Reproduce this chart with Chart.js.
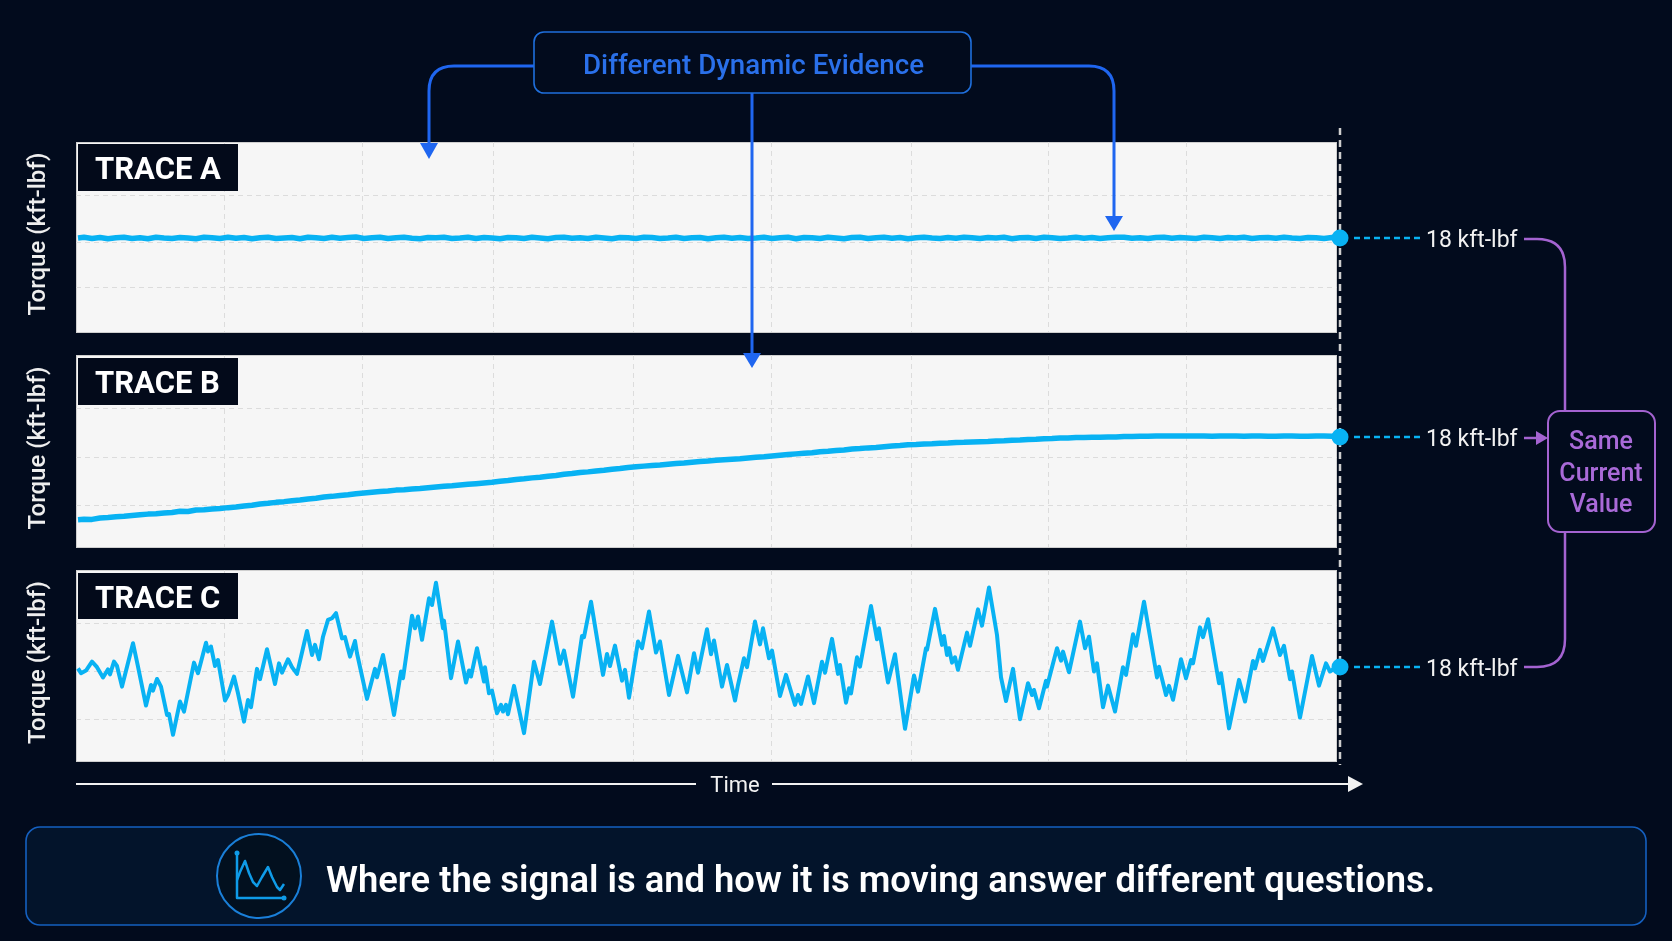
<!DOCTYPE html>
<html>
<head>
<meta charset="utf-8">
<title>Different Dynamic Evidence</title>
<script src="https://cdn.jsdelivr.net/npm/chart.js@4"></script>
<style>
  html, body { margin: 0; padding: 0; background: #020b1d; overflow: hidden; }
  #stage { position: relative; width: 1672px; height: 941px; background: #020b1d; font-family: Roboto, sans-serif; }
  canvas { position: absolute; left: 0; z-index: 2; }
  svg { position: absolute; left: 0; top: 0; }
  #back { z-index: 1; }
  #front { z-index: 3; }
  text { font-family: Roboto, sans-serif; dominant-baseline: central; }
</style>
</head>
<body>
<div id="stage">
  <svg id="back" width="1672" height="941">
    <line x1="1340" y1="128" x2="1340" y2="765" stroke="#cfcfcf" stroke-width="2.5" stroke-dasharray="7 5"/>
  </svg>
  <canvas id="chart-a" width="1360" height="214" style="top:130px"></canvas>
  <canvas id="chart-b" width="1360" height="216" style="top:343px"></canvas>
  <canvas id="chart-c" width="1360" height="215" style="top:558px"></canvas>
  <svg id="front" width="1672" height="941">
    <!-- trace tags -->
    <g fill="#030a1a">
      <rect x="78" y="144" width="160" height="47"/>
      <rect x="78" y="358" width="160" height="47"/>
      <rect x="78" y="573" width="160" height="46"/>
    </g>
    <g fill="#ffffff" font-size="31" font-weight="700">
      <text x="95" y="168">TRACE A</text>
      <text x="95" y="382">TRACE B</text>
      <text x="95" y="597">TRACE C</text>
    </g>

    <!-- top callout -->
    <g fill="none" stroke="#1f66f0" stroke-width="3">
      <path d="M534 66 H454 Q429 66 429 91 V145"/>
      <path d="M971 66 H1089 Q1114 66 1114 91 V218"/>
      <path d="M752 93 V355"/>
    </g>
    <g fill="#1f66f0">
      <path d="M420 143 H438 L429 159 Z"/>
      <path d="M1105 216 H1123 L1114 231 Z"/>
      <path d="M743 353 H761 L752 368 Z"/>
    </g>
    <rect x="534" y="32" width="437" height="61" rx="10" fill="#020b1d" stroke="#1f6fdc" stroke-width="1.6"/>
    <text x="583" y="64" textLength="341" lengthAdjust="spacingAndGlyphs" font-size="27.5" font-weight="500" fill="#2a70ea">Different Dynamic Evidence</text>

    <!-- current value leaders -->
    <g stroke="#08b2f3" stroke-width="2.4" stroke-dasharray="6 4">
      <line x1="1354" y1="238" x2="1420" y2="238"/>
      <line x1="1354" y1="437" x2="1420" y2="437"/>
      <line x1="1354" y1="667" x2="1420" y2="667"/>
    </g>
    <g fill="#f2f2f2" font-size="23">
      <text x="1426" y="239">18 kft-lbf</text>
      <text x="1426" y="438">18 kft-lbf</text>
      <text x="1426" y="668">18 kft-lbf</text>
    </g>

    <!-- same current value bracket -->
    <g fill="none" stroke="#a463d1" stroke-width="2.5">
      <path d="M1524 239 H1537 Q1565 239 1565 267 V411"/>
      <path d="M1565 532 V639 Q1565 667 1537 667 H1524"/>
      <path d="M1524 438 H1538"/>
    </g>
    <path d="M1536 431 L1548 438 L1536 445 Z" fill="#a463d1"/>
    <rect x="1548" y="411" width="107" height="121" rx="12" fill="#020b1d" stroke="#a463d1" stroke-width="2"/>
    <g fill="#a96ad8" font-size="25" font-weight="500" text-anchor="middle">
      <text x="1601" y="440">Same</text>
      <text x="1601" y="472">Current</text>
      <text x="1601" y="503">Value</text>
    </g>

    <!-- time axis -->
    <g stroke="#f2f2f2" stroke-width="2">
      <line x1="76" y1="784" x2="696" y2="784"/>
      <line x1="772" y1="784" x2="1350" y2="784"/>
    </g>
    <path d="M1348 776 L1363 784 L1348 792 Z" fill="#f2f2f2"/>
    <text x="735" y="784" text-anchor="middle" font-size="22" fill="#f2f2f2">Time</text>

    <!-- takeaway bar -->
    <rect x="26" y="827" width="1620" height="98" rx="14" fill="#03142b" stroke="#1560c0" stroke-width="1.6"/>
    <circle cx="259" cy="876" r="42" fill="#02101f" stroke="#1a7fd8" stroke-width="2"/>
    <g fill="none" stroke="#0f9be8" stroke-width="2.5" stroke-linejoin="round">
      <path d="M237 854 V898 H283"/>
      <path d="M237 880 L240 872 L245 861 L249 873 L253 882 L257 886 L262 877 L268 867 L272 877 L277 887 L280 890 L284 884"/>
    </g>
    <g fill="#0f9be8">
      <circle cx="237" cy="853" r="2.5"/>
      <circle cx="284" cy="898" r="2.5"/>
    </g>
    <text x="326" y="880" textLength="1109" lengthAdjust="spacingAndGlyphs" font-size="36" font-weight="600" fill="#ffffff">Where the signal is and how it is moving answer different questions.</text>
  </svg>
</div>

<script>
// Time grid shared by the three panels
const timeGrid = [148, 286, 417, 557, 695, 835, 972, 1110];

// Trace A and B sampled on the same time base
const timeAB = [
  2, 8, 16, 24, 32, 40, 48, 56, 64, 72,
  80, 88, 96, 104, 112, 120, 128, 136, 144, 152,
  160, 168, 176, 184, 192, 200, 208, 216, 224, 232,
  240, 248, 256, 264, 272, 280, 288, 296, 304, 312,
  320, 328, 336, 344, 352, 360, 368, 376, 384, 392,
  400, 408, 416, 424, 432, 440, 448, 456, 464, 472,
  480, 488, 496, 504, 512, 520, 528, 536, 544, 552,
  560, 568, 576, 584, 592, 600, 608, 616, 624, 632,
  640, 648, 656, 664, 672, 680, 688, 696, 704, 712,
  720, 728, 736, 744, 752, 760, 768, 776, 784, 792,
  800, 808, 816, 824, 832, 840, 848, 856, 864, 872,
  880, 888, 896, 904, 912, 920, 928, 936, 944, 952,
  960, 968, 976, 984, 992, 1000, 1008, 1016, 1024, 1032,
  1040, 1048, 1056, 1064, 1072, 1080, 1088, 1096, 1104, 1112,
  1120, 1128, 1136, 1144, 1152, 1160, 1168, 1176, 1184, 1192,
  1200, 1208, 1216, 1224, 1232, 1240, 1248, 1256, 1264
];

const torqueA = [
  18.00, 18.03, 17.98, 18.02, 17.97, 18.01, 18.03, 17.98, 18.01, 17.97,
  18.03, 18.00, 17.98, 18.02, 18.00, 17.97, 18.03, 18.01, 17.98, 18.03,
  17.99, 18.02, 17.97, 18.01, 18.03, 17.98, 18.00, 18.02, 17.97, 18.03,
  18.01, 17.98, 18.03, 17.99, 18.02, 18.04, 17.98, 18.01, 18.03, 17.98,
  18.01, 18.03, 17.99, 17.97, 18.02, 18.01, 18.03, 17.98, 18.00, 18.03,
  17.98, 18.02, 18.00, 17.97, 18.02, 18.01, 17.98, 18.03, 18.00, 17.97,
  18.02, 18.03, 17.99, 18.01, 17.98, 18.03, 18.00, 17.97, 18.02, 18.01,
  17.98, 18.03, 18.02, 17.98, 18.00, 18.03, 17.98, 18.01, 18.02, 17.97,
  18.01, 18.03, 17.99, 18.02, 17.98, 18.00, 18.03, 17.98, 18.01, 18.03,
  17.97, 18.02, 18.01, 17.98, 18.03, 18.00, 17.97, 18.02, 18.03, 17.98,
  18.01, 18.03, 17.99, 18.02, 17.97, 18.01, 18.03, 18.00, 17.98, 18.02,
  17.99, 18.03, 18.01, 17.98, 18.02, 18.00, 18.03, 17.97, 18.01, 18.02,
  17.98, 18.03, 18.01, 17.98, 18.00, 18.03, 17.99, 18.02, 17.98, 18.01,
  18.03, 18.03, 17.99, 18.01, 17.98, 18.02, 18.03, 17.99, 18.02, 18.00,
  17.98, 18.03, 18.01, 17.98, 18.02, 18.00, 18.03, 17.98, 18.01, 18.02,
  17.99, 18.03, 18.00, 17.98, 18.02, 18.01, 17.98, 18.02, 18.00
];

const torqueB = [
  14.56, 14.58, 14.57, 14.63, 14.65, 14.68, 14.70, 14.73, 14.76, 14.79,
  14.81, 14.84, 14.86, 14.91, 14.90, 14.96, 14.97, 15.00, 15.02, 15.06,
  15.09, 15.13, 15.16, 15.21, 15.24, 15.28, 15.31, 15.35, 15.38, 15.42,
  15.45, 15.50, 15.53, 15.57, 15.60, 15.64, 15.67, 15.70, 15.73, 15.75,
  15.79, 15.81, 15.84, 15.86, 15.89, 15.92, 15.95, 15.97, 16.00, 16.03,
  16.06, 16.09, 16.12, 16.16, 16.19, 16.23, 16.26, 16.30, 16.33, 16.37,
  16.40, 16.45, 16.48, 16.52, 16.55, 16.59, 16.62, 16.66, 16.69, 16.73,
  16.76, 16.79, 16.82, 16.84, 16.87, 16.90, 16.92, 16.95, 16.98, 17.00,
  17.03, 17.06, 17.08, 17.10, 17.13, 17.16, 17.18, 17.21, 17.24, 17.27,
  17.30, 17.33, 17.35, 17.39, 17.41, 17.44, 17.46, 17.50, 17.52, 17.55,
  17.57, 17.60, 17.63, 17.65, 17.68, 17.69, 17.71, 17.72, 17.74, 17.75,
  17.77, 17.78, 17.80, 17.81, 17.82, 17.84, 17.85, 17.87, 17.88, 17.90,
  17.91, 17.93, 17.94, 17.96, 17.96, 17.98, 17.98, 17.99, 17.99, 18.00,
  18.00, 18.02, 18.02, 18.03, 18.03, 18.04, 18.04, 18.04, 18.04, 18.04,
  18.04, 18.04, 18.03, 18.05, 18.04, 18.04, 18.03, 18.05, 18.04, 18.03,
  18.03, 18.05, 18.04, 18.03, 18.03, 18.05, 18.04, 18.03, 18.00
];

// Trace C read vertex by vertex
const timeC = [
  2, 5, 10, 16, 21, 27, 32, 34, 38, 41,
  46, 57, 62, 70, 75, 77, 81, 85, 91, 93,
  97, 104, 108, 118, 122, 130, 132, 135, 139, 142,
  149, 152, 158, 162, 168, 172, 175, 181, 184, 191,
  199, 203, 206, 212, 216, 221, 226, 231, 236, 239,
  243, 247, 252, 256, 260, 266, 269, 274, 279, 281,
  291, 299, 301, 307, 318, 325, 327, 336, 339, 342,
  346, 353, 356, 360, 367, 368, 375, 382, 390, 393,
  395, 401, 408, 409, 413, 416, 421, 425, 427, 430,
  432, 438, 448, 458, 464, 476, 484, 488, 497, 506,
  508, 515, 527, 531, 534, 539, 546, 549, 553, 562,
  566, 573, 580, 584, 593, 602, 611, 618, 622, 631,
  635, 638, 646, 651, 659, 662, 668, 671, 679, 684,
  687, 693, 696, 704, 710, 719, 722, 725, 732, 738,
  746, 749, 756, 762, 764, 770, 773, 775, 781, 784,
  795, 801, 803, 812, 819, 829, 838, 842, 850, 851,
  859, 866, 868, 871, 873, 876, 879, 882, 891, 894,
  902, 906, 913, 921, 925, 930, 937, 944, 952, 956,
  958, 963, 970, 971, 981, 985, 987, 993, 1004, 1009,
  1013, 1018, 1021, 1027, 1032, 1039, 1047, 1050, 1057, 1060,
  1068, 1081, 1083, 1090, 1093, 1097, 1105, 1110, 1115, 1117,
  1124, 1127, 1132, 1143, 1145, 1153, 1163, 1169, 1177, 1179,
  1184, 1187, 1197, 1204, 1208, 1214, 1216, 1224, 1236, 1243,
  1250, 1254, 1261, 1264
];

const torqueC = [
  17.94, 17.74, 17.85, 18.22, 17.99, 17.56, 17.90, 17.69, 18.22, 18.04,
  17.18, 18.99, 18.01, 16.39, 17.25, 17.01, 17.50, 17.18, 16.00, 16.04,
  15.17, 16.56, 16.14, 18.18, 17.74, 19.01, 18.64, 18.85, 18.04, 18.29,
  16.60, 16.83, 17.60, 16.90, 15.72, 16.62, 16.32, 17.92, 17.49, 18.74,
  17.29, 18.15, 17.76, 18.32, 17.99, 17.71, 18.60, 19.50, 18.50, 18.92,
  18.32, 19.26, 19.96, 20.03, 20.24, 19.19, 19.24, 18.43, 19.08, 18.57,
  16.67, 17.92, 17.57, 18.50, 16.00, 17.81, 17.53, 20.13, 19.61, 20.10,
  19.13, 20.86, 20.58, 21.51, 19.61, 19.93, 17.53, 19.06, 17.35, 17.85,
  17.60, 18.78, 17.39, 17.99, 16.90, 17.01, 16.07, 16.42, 16.14, 16.42,
  16.03, 17.21, 15.24, 18.22, 17.29, 19.89, 18.13, 18.68, 16.76, 19.29,
  19.24, 20.72, 17.67, 18.54, 18.04, 18.89, 17.43, 17.88, 16.72, 19.06,
  18.78, 20.31, 18.60, 19.06, 16.83, 18.46, 16.94, 18.57, 17.76, 19.57,
  18.53, 19.10, 17.18, 18.08, 16.60, 17.25, 18.36, 17.99, 19.89, 18.94,
  19.61, 18.36, 18.68, 16.79, 17.67, 16.42, 16.83, 16.46, 17.60, 16.49,
  18.22, 17.76, 19.17, 17.71, 18.08, 16.51, 17.11, 16.90, 18.40, 18.01,
  20.54, 19.15, 19.61, 17.35, 18.53, 15.42, 17.64, 16.97, 18.78, 18.71,
  20.42, 18.92, 19.29, 18.50, 18.78, 18.18, 18.40, 17.88, 19.43, 18.88,
  20.40, 19.72, 21.31, 19.33, 17.57, 16.58, 17.92, 15.82, 17.32, 16.83,
  17.04, 16.28, 17.42, 17.18, 18.78, 18.26, 18.64, 17.78, 19.89, 18.78,
  19.26, 17.81, 18.15, 16.32, 17.22, 16.14, 17.99, 17.67, 19.36, 18.88,
  20.72, 17.56, 18.01, 16.83, 17.21, 16.63, 18.32, 17.53, 18.29, 18.15,
  19.65, 19.24, 19.99, 17.32, 17.74, 15.44, 17.46, 16.56, 18.25, 17.94,
  18.71, 18.25, 19.61, 18.50, 18.88, 17.49, 17.81, 15.89, 18.46, 17.22,
  18.15, 17.81, 18.01, 18.00
];

// Current value shown at the end of every trace
const currentTime = 1264;
const currentTorque = 18;

// Torque grid per panel
const gridA = [19.79, 17.83, 15.92];
const gridB = [19.17, 17.13, 15.17];
const gridC = [19.83, 17.83, 15.83];

const TRACE_COLOR = '#08b2f3';

// Light plot background behind each panel
const panelBackground = {
  id: 'panelBackground',
  beforeDraw(chart) {
    const { ctx, chartArea: a } = chart;
    ctx.save();
    ctx.fillStyle = '#f6f6f6';
    ctx.fillRect(a.left, a.top, a.right - a.left, a.bottom - a.top);
    ctx.strokeStyle = '#cfcfcf';
    ctx.lineWidth = 1;
    ctx.strokeRect(a.left + 0.5, a.top + 0.5, a.right - a.left - 1, a.bottom - a.top);
    ctx.restore();
  }
};

function drawTrace(id, times, values, grid, yMin, yMax, lineWidth) {
  new Chart(document.getElementById(id), {
    type: 'line',
    data: {
      datasets: [
        {
          data: [{ x: currentTime, y: currentTorque }],
          pointRadius: 8.5,
          pointBackgroundColor: TRACE_COLOR,
          pointBorderWidth: 0,
          showLine: false,
          clip: false,
        },
        {
          data: times.map((t, i) => ({ x: t, y: values[i] })),
          borderColor: TRACE_COLOR,
          borderWidth: lineWidth,
          borderJoinStyle: 'round',
          borderCapStyle: 'butt',
          pointRadius: 0,
          tension: 0,
          clip: false,
        },
      ],
    },
    options: {
      responsive: false,
      animation: false,
      devicePixelRatio: 1,
      layout: { padding: { top: 12, bottom: 12, right: 23, left: 0 } },
      plugins: { legend: { display: false }, tooltip: { enabled: false } },
      scales: {
        x: {
          type: 'linear',
          min: 0,
          max: 1261,
          afterBuildTicks: (scale) => { scale.ticks = timeGrid.map(v => ({ value: v })); },
          afterFit: (scale) => { scale.height = 0; },
          ticks: { display: false },
          border: { display: false, dash: [5, 4] },
          grid: { color: '#dcdcdc', lineWidth: 1, drawTicks: false },
        },
        y: {
          min: yMin,
          max: yMax,
          afterBuildTicks: (scale) => { scale.ticks = grid.map(v => ({ value: v })); },
          afterFit: (scale) => { scale.width = 76; },
          ticks: { display: false },
          border: { display: false, dash: [5, 4] },
          grid: { color: '#dcdcdc', lineWidth: 1, drawTicks: false },
          title: {
            display: true,
            text: ' Torque (kft-lbf)',
            color: '#eeeeee',
            padding: { top: 27, bottom: 0 },
            font: { family: 'Roboto, sans-serif', size: 24, weight: '500', lineHeight: 1 },
          },
        },
      },
    },
    plugins: [panelBackground],
  });
}

drawTrace('chart-a', timeAB, torqueA, gridA, 14.08, 22, 5.5);
drawTrace('chart-b', timeAB, torqueB, gridB, 13.42, 21.42, 5.5);
drawTrace('chart-c', timeC, torqueC, gridC, 14.08, 22.04, 4);
</script>
</body>
</html>
